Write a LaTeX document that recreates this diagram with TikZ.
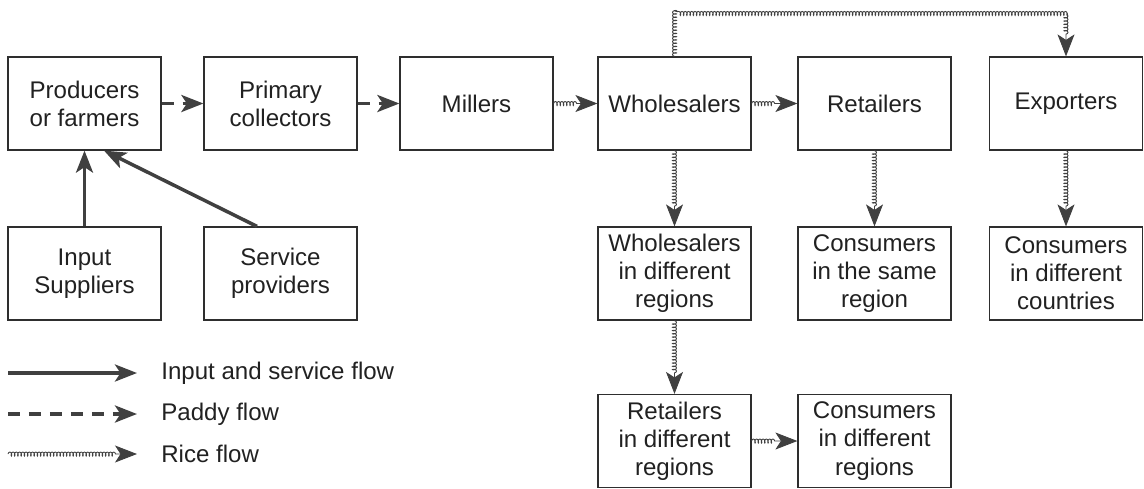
\documentclass[tikz,border=0pt]{standalone}
\usepackage{fontspec}
\setmainfont{Liberation Sans}
\usetikzlibrary{arrows.meta,decorations.pathmorphing}
\definecolor{flowgrey}{HTML}{404040}
\definecolor{boxline}{HTML}{2E2E2E}

\tikzset{
	actor/.style={draw=boxline, line width=0.7pt, minimum width=3.06cm, minimum height=1.86cm, inner sep=0pt, align=center, text=black!87, font=\fontsize{13.7}{16}\selectfont},
	legendtext/.style={anchor=west, inner sep=0pt, text=black!87, font=\fontsize{13.7}{16}\selectfont},
	tip/.style={-{Stealth[length=0.44cm, width=0.34cm, inset=0.11cm]}},
	inputflow/.style={tip, draw=flowgrey, line width=2pt},
	paddyflow/.style={tip, draw=flowgrey, line width=2.1pt, dash pattern=on 0.24cm off 0.18cm},
	riceflow/.style={tip, draw=flowgrey, line width=0.5pt, decoration={coil, amplitude=0.04cm, segment length=0.065cm, aspect=0.5, post length=0.4cm}, decorate},
}

\begin{document}
\begin{tikzpicture}[x=0.02cm, y=-0.02cm]
		%%%%% START %%%%%
		\useasboundingbox (0, 0) rectangle (1144, 488);
		
		\node[actor] (prod) at (84.5, 103.5) {Producers\\or farmers};
		\node[actor] (coll) at (280.5, 103.5) {Primary\\collectors};
		\node[actor] (mill) at (476.5, 103.5) {Millers};
		\node[actor] (whole) at (674.5, 103.5) {Wholesalers};
		\node[actor] (retail) at (874.5, 103.5) {Retailers};
		\node[actor] (export) at (1066, 103.5) {Exporters};
		
		\node[actor] (input) at (84.5, 273.5) {Input\\Suppliers};
		\node[actor] (service) at (280.5, 273.5) {Service\\providers};
		\node[actor] (wholereg) at (674.5, 273.5) {Wholesalers\\in different\\regions};
		\node[actor] (samereg) at (874.5, 273.5) {Consumers\\in the same\\region};
		\node[actor] (countries) at (1066, 273.5) {Consumers\\in different\\countries};
		
		\node[actor] (retailreg) at (674.5, 441) {Retailers\\in different\\regions};
		\node[actor] (consreg) at (874.5, 441) {Consumers\\in different\\regions};
		
		\draw[inputflow] (input) -- (prod);
		\draw[inputflow] ([xshift=-0.47cm]service.north) -- ([xshift=0.39cm]prod.south);
		
		\draw[paddyflow] (prod) -- (coll);
		\draw[paddyflow] (coll) -- (mill);
		
		\draw[riceflow] (mill) -- (whole);
		\draw[riceflow] (whole) -- (retail);
		\draw[riceflow] (whole.north) -- ++(0, -43) -| (export.north);
		\draw[riceflow] (whole) -- (wholereg);
		\draw[riceflow] (retail) -- (samereg);
		\draw[riceflow] (export) -- (countries);
		\draw[riceflow] (wholereg) -- (retailreg);
		\draw[riceflow] (retailreg) -- (consreg);
		
		% legend
		\coordinate (inA) at (8, 373);
		\coordinate (inB) at (137, 373);
		\coordinate (padA) at (8, 414);
		\coordinate (padB) at (137, 414);
		\coordinate (riceA) at (8, 454);
		\coordinate (riceB) at (137, 454);
		\draw[inputflow] (inA) -- (inB);
		\draw[paddyflow] (padA) -- (padB);
		\draw[riceflow] (riceA) -- (riceB);
		\node[legendtext] (inlab) at (161, 373) {Input and service flow};
		\node[legendtext] (padlab) at (161, 414) {Paddy flow};
		\node[legendtext] (ricelab) at (161, 454) {Rice flow};
		
		%%%%% END %%%%%
	\end{tikzpicture}
\end{document}
